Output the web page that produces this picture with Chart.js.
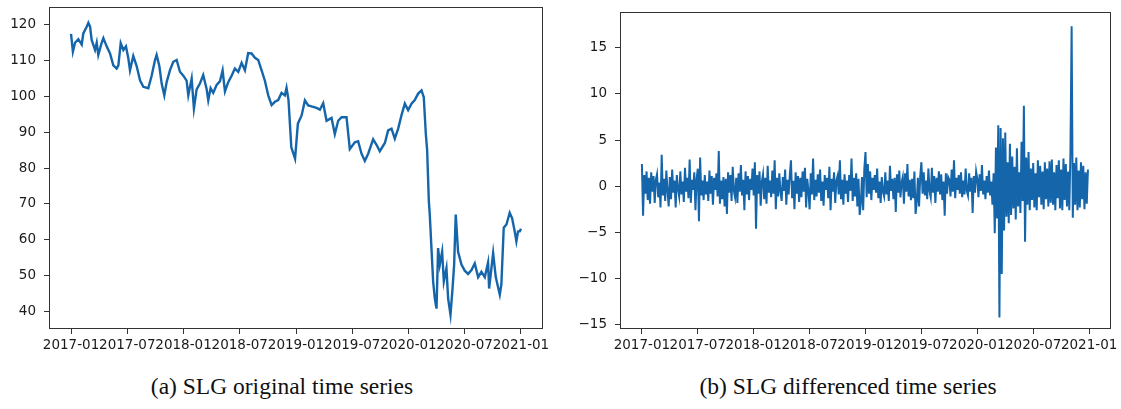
<!DOCTYPE html>
<html>
<head>
<meta charset="utf-8">
<script src="https://cdn.jsdelivr.net/npm/chart.js@4.4.1/dist/chart.umd.min.js"></script>
<style>
  body { margin: 0; background: #fff; width: 1121px; height: 409px; position: relative; overflow: hidden; }
  canvas { position: absolute; top: 0; }
  .cap { position: absolute; top: 373px; font-family: "Liberation Serif", serif; font-size: 23.5px; color: #111; white-space: nowrap; transform: translateX(-50%); }
</style>
</head>
<body>
<canvas id="chartA" width="560" height="360" style="left:0px"></canvas>
<canvas id="chartB" width="561" height="360" style="left:560px"></canvas>
<div class="cap" style="left:282px">(a) SLG original time series</div>
<div class="cap" style="left:848px">(b) SLG differenced time series</div>
<script>
// x axis = months since 2017-01
var xTicks = [0, 6, 12, 18, 24, 30, 36, 42, 48];
var xTickLabels = ["2017-01", "2017-07", "2018-01", "2018-07", "2019-01", "2019-07", "2020-01", "2020-07", "2021-01"];
var priceTicks = [40, 50, 60, 70, 80, 90, 100, 110, 120];
var diffTicks = [-15, -10, -5, 0, 5, 10, 15];

// (a) original series
var priceMonth = [0.0, 0.2, 0.43, 0.78, 1.14, 1.31, 1.67, 1.85, 2.03, 2.2, 2.56, 2.74, 2.91, 3.27, 3.45, 3.8, 4.16, 4.51, 4.87, 5.05,
    5.3, 5.58, 5.86, 6.11, 6.29, 6.64, 7.0, 7.36, 7.71, 8.24, 8.6, 8.96, 9.13, 9.42, 9.67, 9.95, 10.2, 10.55, 10.91, 11.27,
    11.62, 11.98, 12.33, 12.51, 12.87, 13.11, 13.4, 13.75, 14.1, 14.47, 14.64, 14.89, 15.17, 15.53, 15.88, 16.17, 16.42, 16.77, 17.13, 17.48,
    17.84, 18.2, 18.55, 18.9, 19.26, 19.62, 19.97, 20.33, 20.68, 21.04, 21.4, 21.75, 22.1, 22.46, 22.81, 22.99, 23.2, 23.5, 23.9, 24.2,
    24.6, 24.95, 25.3, 25.66, 26.19, 26.55, 26.9, 27.26, 27.79, 28.14, 28.5, 28.86, 29.39, 29.74, 30.28, 30.63, 30.99, 31.34, 31.7, 32.23,
    32.59, 32.94, 33.48, 33.83, 34.19, 34.54, 34.9, 35.25, 35.61, 35.96, 36.32, 36.67, 37.03, 37.39, 37.63, 37.85, 37.99, 38.17, 38.27, 38.45,
    38.63, 38.81, 38.99, 39.16, 39.34, 39.59, 39.77, 40.05, 40.23, 40.48, 40.69, 40.87, 41.04, 41.29, 41.65, 42.0, 42.36, 42.72, 43.07, 43.43,
    43.78, 44.14, 44.49, 44.6, 45.03, 45.31, 45.74, 45.91, 46.16, 46.45, 46.8, 47.05, 47.33, 47.51, 47.69, 47.87, 48.0];
var price = [117.5, 112.5, 115, 116, 114.5, 117.6, 119.5, 120.6, 119.5, 115.8, 113, 115, 111.6, 115, 116.3, 114, 112, 108.7, 107.8, 108.7,
    114.9, 113, 114, 110.7, 107.3, 111.3, 108.5, 104.5, 102.7, 102.3, 105.8, 110.2, 111.6, 108.5, 103.6, 100.3, 104, 107.3, 109.7, 110.2,
    106.9, 105.8, 104.4, 100.3, 105, 96.6, 102, 103.6, 106, 102, 98.9, 102.3, 101, 103.2, 104.2, 107.3, 101.4, 104, 105.8, 107.8,
    106.9, 109.4, 107.3, 112.1, 112, 110.8, 110.2, 107.3, 104.4, 100.3, 97.6, 98.5, 99, 101, 100.3, 102.4, 99, 85.8, 82.6, 92.4,
    94.7, 98.9, 97.5, 97.2, 96.8, 96.3, 98.1, 93.2, 94, 89.5, 93.2, 94.2, 94.2, 85.3, 87.2, 87.5, 84, 82, 84, 88,
    86.5, 84.7, 87, 90.5, 91, 88.2, 91, 94.7, 98, 96.2, 98, 99, 100.8, 101.7, 99.8, 89.5, 85, 70.8, 67, 57.6,
    48.3, 43.5, 40.7, 57.6, 53, 56.6, 48.3, 52, 43.5, 39, 46, 53, 67, 56.6, 53, 51.3, 50.4, 51.5, 53.3, 49.5,
    51, 49.5, 53.6, 46.3, 56.2, 49.5, 44.6, 47.5, 63.3, 64.2, 67.5, 66, 62.3, 59.5, 62.3, 62.3, 63];

// (b) differenced series, eight readings per month from 2017-01
var diffs = [
    2.4, -3.2, 1.2, -0.8, 1.6, -1.5, 0.9, -1.9,
    1.5, -0.6, 1.1, -1.8, 0.7, 1.3, -1.2, 0.4,
    -2.3, 3.4, -1.0, 0.8, -1.6, 1.7, -0.5, -2.2,
    1.0, -1.4, 1.8, -0.7, 0.6, -2.3, 1.2, -0.3,
    -1.1, 1.6, -0.9, 0.5, -1.7, 2.0, -0.6, 0.9,
    -1.3, 2.9, -1.8, 0.7, -0.4, 1.5, -2.6, 0.8,
    1.9, -3.8, 3.1, -1.0, 0.6, -1.5, 1.2, -0.9,
    0.5, -1.6, 1.7, -0.8, 1.1, -2.0, 0.9, -0.4,
    1.4, -1.1, 3.8, -1.9, 0.6, -1.4, 1.0, -2.2,
    0.8, -3.0, 1.5, -0.7, 1.2, -1.6, 2.1, -0.5,
    -1.2, 0.9, -1.8, 1.4, -0.6, 2.3, -1.0, 0.7,
    -2.6, 1.6, -0.9, 1.1, -1.5, 0.8, -0.4, 1.9,
    -1.0, 2.6, -4.6, 1.2, -0.8, 1.6, -2.1, 0.5,
    1.3, -1.4, 0.9, -1.9, 2.2, -0.7, 0.6, -1.2,
    1.7, -0.8, 2.8, -2.5, 0.9, -1.1, 1.4, -0.6,
    -1.6, 1.0, -0.5, 1.8, -2.0, 0.7, -0.9, 1.2,
    2.8, -1.3, 0.6, -2.5, 1.5, -0.8, 1.1, -1.7,
    0.9, -1.2, 1.6, -0.6, 2.0, -2.3, 0.8, -0.5,
    -2.5, 1.4, -0.9, 3.0, -1.5, 0.7, -1.1, 1.3,
    -0.7, 1.8, -1.6, 0.5, -2.1, 1.2, -0.4, 0.9,
    -1.3, 2.1, -2.6, 0.8, -0.6, 1.5, -1.8, 0.6,
    1.1, -0.9, 2.8, -1.4, 0.7, -2.0, 1.3, -0.8,
    0.6, -1.7, 1.2, -0.5, 3.0, -1.6, 0.9, -1.1,
    1.4, -2.2, 0.8, -3.1, -1.8, 1.0, -2.6, 1.9,
    3.7, -1.2, 2.4, -0.8, 1.6, -1.5, 0.9, -0.4,
    1.2, -0.7, 1.9, -1.3, 0.5, -1.8, 1.0, -0.6,
    -1.1, 1.5, -0.9, 0.6, -1.6, 2.2, -0.5, 0.8,
    -1.4, 0.9, -2.8, 1.3, -0.7, 1.7, -1.2, 0.4,
    1.0, -1.9, 1.4, -0.6, 2.4, -1.1, 0.7, -1.5,
    0.8, -1.3, 1.6, -3.0, -1.7, 0.9, -2.2, 1.1,
    2.6, -0.8, 1.5, -1.0, 0.6, -1.4, 1.9, -0.5,
    -1.2, 2.0, -0.7, 1.1, -1.8, 0.9, -0.6, 1.6,
    -0.9, 1.3, -1.5, 0.5, -3.2, 1.4, -0.8, 1.0,
    0.7, -1.1, 1.8, -0.6, 2.8, -1.3, 0.9, -0.4,
    1.2, -0.8, 1.5, -1.2, 0.6, -0.9, 1.9, -0.5,
    -1.0, 1.4, -0.6, 0.9, -2.9, 1.1, -0.7, 1.6,
    0.8, -1.2, 1.3, -0.5, 2.3, -0.9, 0.6, -1.4,
    1.1, -0.7, 1.7, -1.0, 0.5, -2.0, 1.4, -5.1,
    4.2, -3.5, 6.6, -14.2, 6.3, -9.5, 5.2, -4.8,
    5.8, -3.3, 2.6, -4.0, 4.6, -3.1, 3.2, -2.4,
    2.1, -3.6, 4.1, -2.2, 1.5, -2.9, 4.8, -1.6,
    8.7, -6.0, 3.1, -2.0, 3.7, -2.6, 1.9, -1.5,
    2.5, -2.3, 1.4, -2.6, 2.8, -1.2, 2.2, -2.0,
    1.6, -2.5, 2.6, -1.4, 1.9, -2.2, 2.7, -1.8,
    2.9, -2.0, 1.5, -2.6, 2.3, -1.3, 2.8, -2.4,
    1.8, -2.6, 3.0, -1.5, 2.4, -2.2, 1.6, -2.6,
    3.9, 17.3, -3.4, 2.5, -2.0, 3.1, -2.6, 1.7,
    -2.3, 2.6, -1.4, 2.2, -2.5, 1.5, -1.9, 1.8
];

var lineColor = "#1565ab";
var inkColor = "#1a1a1a";
var tickFont = { family: "DejaVu Sans", size: 13.5 };

// matplotlib-like box round the plot area
var frame = {
    id: "frame",
    afterDraw: function (chart) {
        var a = chart.chartArea, ctx = chart.ctx;
        ctx.save();
        ctx.strokeStyle = "#333";
        ctx.lineWidth = 1;
        ctx.strokeRect(a.left + 0.5, a.top + 0.5, a.right - a.left - 1, a.bottom - a.top - 1);
        ctx.restore();
    }
};

function minusSign(v) {
    return String(v).replace("-", "\u2212");
}

function makeChart(id, points, yMin, yMax, yTicks, yWidth, pad, lineW) {
    return new Chart(id, {
        type: "line",
        data: {
            datasets: [{
                data: points,
                borderColor: lineColor,
                borderWidth: lineW,
                pointRadius: 0,
                fill: false,
                tension: 0
            }]
        },
        options: {
            responsive: false,
            animation: false,
            layout: { padding: pad },
            plugins: { legend: { display: false }, tooltip: { enabled: false } },
            scales: {
                x: {
                    type: "linear",
                    min: -2.35,
                    max: 50.35,
                    afterBuildTicks: function (s) { s.ticks = xTicks.map(function (v) { return { value: v }; }); },
                    afterFit: function (s) { s.height = 31; s.paddingLeft = 0; s.paddingRight = 0; },
                    border: { display: false },
                    grid: { drawOnChartArea: false, tickLength: 5, color: "#333" },
                    ticks: {
                        autoSkip: false, maxRotation: 0, minRotation: 0, padding: 3,
                        color: inkColor, font: tickFont,
                        callback: function (v) { return xTickLabels[xTicks.indexOf(v)]; }
                    }
                },
                y: {
                    min: yMin,
                    max: yMax,
                    afterBuildTicks: function (s) { s.ticks = yTicks.map(function (v) { return { value: v }; }); },
                    afterFit: function (s) { s.width = yWidth; s.paddingTop = 0; s.paddingBottom = 0; },
                    border: { display: false },
                    grid: { drawOnChartArea: false, tickLength: 5, color: "#333" },
                    ticks: {
                        padding: 8, color: inkColor, font: tickFont,
                        callback: function (v) { return minusSign(v); }
                    }
                }
            }
        },
        plugins: [frame]
    });
}

var pricePoints = priceMonth.map(function (m, i) { return { x: m, y: price[i] }; });
var diffPoints = diffs.map(function (d, i) { return { x: i / 8, y: d }; });

makeChart("chartA", pricePoints, 35, 125, priceTicks, 49, { top: 7, right: 17, left: 0, bottom: 0 }, 2.4);
makeChart("chartB", diffPoints, -15.45, 18.85, diffTicks, 60, { top: 12, right: 10, left: 0, bottom: 0 }, 2);
</script>
</body>
</html>
